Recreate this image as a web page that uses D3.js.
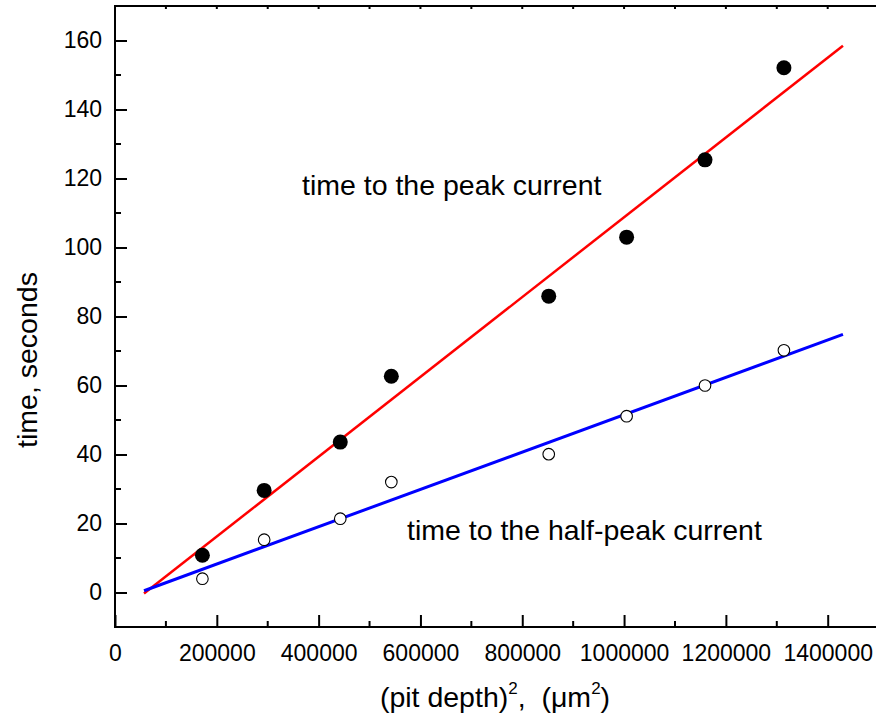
<!DOCTYPE html>
<html>
<head>
<meta charset="utf-8">
<script src="https://cdn.jsdelivr.net/npm/d3@7"></script>
<style>
  html, body { margin: 0; padding: 0; background: #fff; }
  svg { display: block; font-family: "Liberation Sans", Arial, sans-serif; }
</style>
</head>
<body>
<svg id="chart" width="876" height="719"></svg>
<script>
// ---- data ----
const depthSq = [171700, 293000, 442500, 542800, 852000, 1005000, 1159000, 1314000];
const peakTime = [10.8, 29.6, 43.6, 62.7, 85.9, 103.0, 125.4, 152.1];
const halfPeakTime = [4.0, 15.3, 21.4, 32.0, 40.1, 51.1, 60.0, 70.2];
const fitX = [57000, 1430000];
const peakFit = [-0.3, 158.5];
const halfFit = [0.5, 74.8];
const xTicks = [0, 200000, 400000, 600000, 800000, 1000000, 1200000, 1400000];
const yTicks = [0, 20, 40, 60, 80, 100, 120, 140, 160];

(function () {
const svg = d3.select("#chart");
const pLeft = 115, pRight = 876, pTop = 6, pBottom = 627;

const x = d3.scaleLinear().domain([0, 1400000]).range([115, 827.7]);
const y = d3.scaleLinear().domain([-10, 170]).range([pBottom, pTop]);

const axisW = 2;
// frame lines
svg.append("line").attr("x1", pLeft).attr("x2", pRight).attr("y1", pBottom).attr("y2", pBottom)
  .attr("stroke", "#000").attr("stroke-width", axisW);
svg.append("line").attr("x1", pLeft).attr("x2", pRight).attr("y1", pTop).attr("y2", pTop)
  .attr("stroke", "#000").attr("stroke-width", axisW);
svg.append("line").attr("x1", pLeft).attr("x2", pLeft).attr("y1", pTop - 1).attr("y2", pBottom + 1)
  .attr("stroke", "#000").attr("stroke-width", axisW);

// bottom axis: major ticks inward
const xAxis = d3.axisBottom(x).tickValues(xTicks).tickSize(-12).tickPadding(18).tickFormat(d3.format("d"));
const gx = svg.append("g").attr("transform", `translate(0,${pBottom})`).call(xAxis);
gx.select(".domain").remove();
gx.selectAll(".tick line").attr("stroke-width", axisW);
gx.selectAll("text").attr("font-size", 23).attr("fill", "#000").attr("font-family", "Liberation Sans, Arial, sans-serif");
// minor ticks bottom
const xMinor = d3.range(100000, 1500001, 200000);
svg.append("g").selectAll("line").data(xMinor).join("line")
  .attr("x1", d => x(d)).attr("x2", d => x(d)).attr("y1", pBottom).attr("y2", pBottom - 6)
  .attr("stroke", "#000").attr("stroke-width", axisW);
// top small ticks
const xTop = d3.range(100000, 1500001, 100000);
svg.append("g").selectAll("line").data(xTop).join("line")
  .attr("x1", d => x(d)).attr("x2", d => x(d)).attr("y1", pTop).attr("y2", pTop + 3)
  .attr("stroke", "#000").attr("stroke-width", axisW);

// left axis
const yAxis = d3.axisLeft(y).tickValues(yTicks).tickSize(-12).tickPadding(13);
const gy = svg.append("g").attr("transform", `translate(${pLeft},0)`).call(yAxis);
gy.select(".domain").remove();
gy.selectAll(".tick line").attr("stroke-width", axisW);
gy.selectAll("text").attr("font-size", 23).attr("fill", "#000").attr("font-family", "Liberation Sans, Arial, sans-serif");
const yMinor = d3.range(-10, 171, 20);
svg.append("g").selectAll("line").data(yMinor).join("line")
  .attr("x1", pLeft).attr("x2", pLeft + 6).attr("y1", d => y(d)).attr("y2", d => y(d))
  .attr("stroke", "#000").attr("stroke-width", axisW);

// fit lines
const line = d3.line().x(d => x(d[0])).y(d => y(d[1]));
svg.append("path").datum(fitX.map((v, i) => [v, peakFit[i]])).attr("d", line)
  .attr("stroke", "#ff0000").attr("stroke-width", 2.5).attr("fill", "none");
svg.append("path").datum(fitX.map((v, i) => [v, halfFit[i]])).attr("d", line)
  .attr("stroke", "#0000ff").attr("stroke-width", 3).attr("fill", "none");

// points
svg.append("g").selectAll("circle").data(depthSq.map((v, i) => [v, peakTime[i]])).join("circle")
  .attr("cx", d => x(d[0])).attr("cy", d => y(d[1])).attr("r", 7.5).attr("fill", "#000");
svg.append("g").selectAll("circle").data(depthSq.map((v, i) => [v, halfPeakTime[i]])).join("circle")
  .attr("cx", d => x(d[0])).attr("cy", d => y(d[1])).attr("r", 5.8)
  .attr("fill", "#fff").attr("stroke", "#000").attr("stroke-width", 1.1);

// annotations
svg.append("text").attr("x", 302).attr("y", 195).attr("font-size", 28.5).text("time to the peak current");
svg.append("text").attr("x", 407).attr("y", 540).attr("font-size", 28.5).text("time to the half-peak current");

// axis titles
const xt = svg.append("text").attr("x", 495).attr("y", 707).attr("text-anchor", "middle")
  .attr("font-size", 28.5).style("white-space", "pre");
xt.append("tspan").text("(pit depth)");
xt.append("tspan").attr("font-size", 17).attr("dy", -13).text("2");
xt.append("tspan").attr("dy", 13).text(",\u00a0\u00a0(");
xt.append("tspan").text("\u03bcm");
xt.append("tspan").attr("font-size", 17).attr("dy", -13).text("2");
xt.append("tspan").attr("dy", 13).text(")");

svg.append("text").attr("transform", "translate(37,360) rotate(-90)").attr("text-anchor", "middle")
  .attr("font-size", 28.5).text("time, seconds");
})();
</script>
</body>
</html>
